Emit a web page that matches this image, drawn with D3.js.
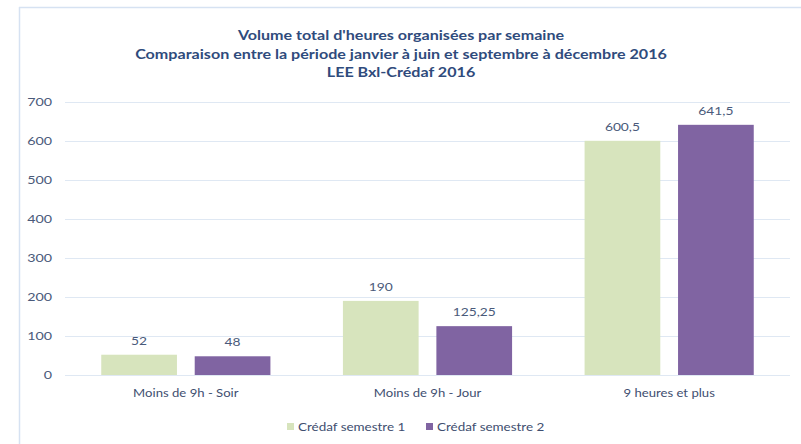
<!DOCTYPE html>
<html><head><meta charset="utf-8">
<script src="https://cdnjs.cloudflare.com/ajax/libs/d3/7.8.5/d3.min.js"></script>
<style>body{margin:0;background:#fff;}svg{display:block;}</style>
</head><body><svg id="c" width="801" height="444"></svg>
<script>
const categories = ["Moins de 9h - Soir", "Moins de 9h - Jour", "9 heures et plus"];
const seriesNames = ["Crédaf semestre 1", "Crédaf semestre 2"];
const semestre1 = [52, 190, 600.5];
const semestre2 = [48, 125.25, 641.5];
const yTicks = [0, 100, 200, 300, 400, 500, 600, 700];
const titleLines = ["Volume total d'heures organisées par semaine",
  "Comparaison entre la période janvier à juin et septembre à décembre 2016",
  "LEE Bxl-Crédaf 2016"];
const colors = ["#d7e4bd", "#8064a2"];

const font = "Lato, 'Open Sans', sans-serif";
const svg = d3.select("#c");
// frame
svg.append("line").attr("x1",19.5).attr("x2",19.5).attr("y1",7).attr("y2",444).attr("stroke","#d6e2f2").attr("stroke-width",1.5);
svg.append("line").attr("x1",19).attr("x2",801).attr("y1",7.5).attr("y2",7.5).attr("stroke","#d6e2f2").attr("stroke-width",1.5);

const pLeft = 65, pRight = 790, pTop = 102, pBottom = 375;
const x = d3.scaleBand().domain(categories).range([pLeft, pRight]).paddingInner(0.3).paddingOuter(0.15);
const y = d3.scaleLinear().domain([0, 700]).range([pBottom, pTop]);
const x1 = d3.scaleBand().domain([0,1]).range([0, x.bandwidth()]).paddingInner(0.19);

// text drawn slightly stretched horizontally, as in the reference
function stretch(sel, fx, fy, sx) {
  return sel.attr("transform", (d, i) => `translate(${fx(d, i)},${fy(d, i)}) scale(${sx},1)`);
}

// gridlines
svg.append("g").selectAll("line").data(yTicks).join("line")
  .attr("x1", pLeft).attr("x2", pRight)
  .attr("y1", d => Math.round(y(d)) + 0.5).attr("y2", d => Math.round(y(d)) + 0.5)
  .attr("stroke", "#dfe8f3").attr("stroke-width", 1);

// y labels
stretch(svg.append("g").selectAll("text").data(yTicks).join("text"), () => 52, d => y(d), 1.3)
  .attr("dy", "0.35em")
  .attr("text-anchor", "end").attr("font-family", font).attr("font-size", 11)
  .attr("fill", "#4a5a7a").text(d => d);

const data = categories.map((c, i) => ({c, vals: [semestre1[i], semestre2[i]]}));
const fmt = v => String(v).replace(".", ",");
const g = svg.append("g").selectAll("g").data(data).join("g")
  .attr("transform", d => `translate(${x(d.c)},0)`);
g.selectAll("rect").data(d => d.vals).join("rect")
  .attr("x", (v, i) => x1(i)).attr("width", x1.bandwidth())
  .attr("y", v => y(v)).attr("height", v => y(0) - y(v))
  .attr("fill", (v, i) => colors[i]);
stretch(g.selectAll("text").data(d => d.vals).join("text"),
    (v, i) => x1(i) + x1.bandwidth() / 2, v => y(v) - 10, 1.15)
  .attr("text-anchor", "middle").attr("font-family", font).attr("font-size", 12)
  .attr("fill", "#4a5a7a").text(fmt);

// x labels
stretch(svg.append("g").selectAll("text").data(categories).join("text"),
    d => x(d) + x.bandwidth() / 2, () => 397, 1.14)
  .attr("text-anchor", "middle").attr("font-family", font).attr("font-size", 11.5)
  .attr("fill", "#3e4e70").text(d => d);

// title
stretch(svg.append("g").selectAll("text").data(titleLines).join("text"),
    () => 401, (d, i) => 40 + i * 18.7, 1.24)
  .attr("text-anchor", "middle").attr("font-family", font).attr("font-size", 13)
  .attr("font-weight", "bold").attr("fill", "#2f4b7c").text(d => d);

// legend
const legX = [287, 426];
const lg = svg.append("g").selectAll("g").data(seriesNames).join("g")
  .attr("transform", (d, i) => `translate(${legX[i]},421)`);
lg.append("rect").attr("width", 7).attr("height", 7).attr("y", 2).attr("fill", (d, i) => colors[i]);
stretch(lg.append("text"), () => 11, () => 6, 1.17).attr("dy", "0.35em")
  .attr("font-family", font).attr("font-size", 11.5).attr("fill", "#3e4e70").text(d => d);
</script></body></html>
